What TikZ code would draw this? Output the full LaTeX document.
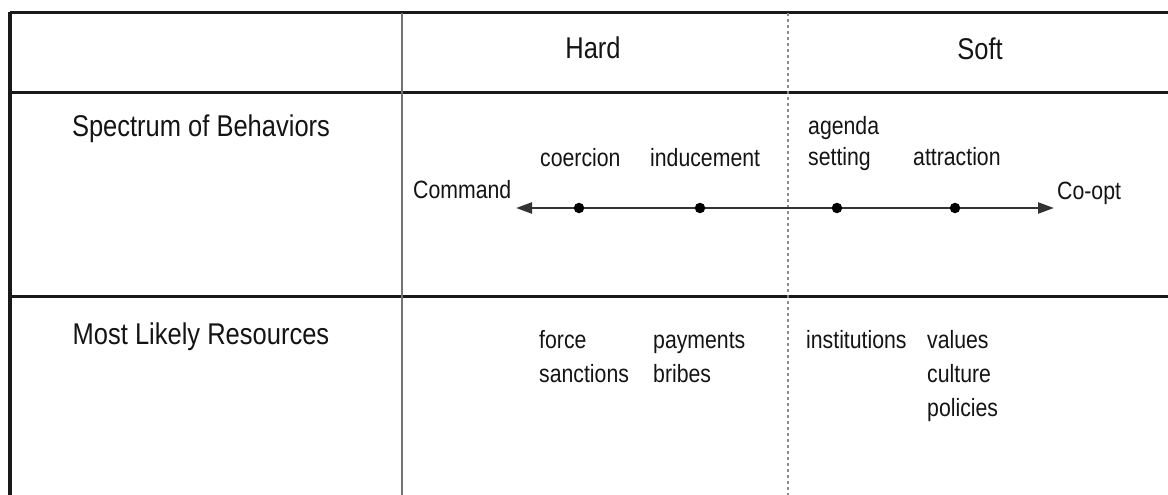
\documentclass[tikz,border=0pt]{standalone}
\usepackage{fontspec}
\setmainfont{Liberation Sans}[FakeStretch=0.85]
\usetikzlibrary{arrows.meta}
\tikzset{
  head/.style={inner sep=0pt, anchor=base, font=\fontsize{30}{34}\selectfont, text=black!92},
  lbl/.style={inner sep=0pt, anchor=base west, font=\fontsize{25}{29}\selectfont, text=black!92},
  rule/.style={line width=3pt, black!90},
  frame/.style={line width=3.4pt, black!90},
  colrule/.style={line width=1.8pt, black!55},
  split/.style={line width=2.2pt, black!45, dash pattern=on 3pt off 3pt},
  dotnode/.style={circle, fill=black, inner sep=0pt, minimum size=10.5pt},
  spectrum/.style={line width=2.4pt, black!80, {Triangle[length=16pt,width=11pt]}-{Triangle[length=16pt,width=11pt]}}
}
\begin{document}
\begin{tikzpicture}[x=1pt,y=-1pt]
\useasboundingbox (0,0) rectangle (1168,495);
% table rules
\draw[rule] (10,13) -- (1168,13);
\draw[rule] (10,93) -- (1168,93);
\draw[rule] (10,296) -- (1168,296);
\draw[frame] (10,12) -- (10,495);
\draw[colrule] (402,13) -- (402,495);
\draw[split] (788,13) -- (788,495);
% headers
\node[head] (hard) at (593,59) {Hard};
\node[head] (soft) at (980,60) {Soft};
\node[head] (spec) at (201,136) {Spectrum of Behaviors};
\node[head] (res) at (201,344) {Most Likely Resources};
% spectrum
\node[lbl] (command) at (413,198) {Command};
\node[lbl] (coercion) at (540,166) {coercion};
\node[lbl] (inducement) at (650,166) {inducement};
\node[lbl] (agenda) at (808,135) {agenda};
\node[lbl] (setting) at (808,165) {setting};
\node[lbl] (attraction) at (913,165) {attraction};
\node[lbl] (coopt) at (1057,199) {Co-opt};
\coordinate (lend) at (516,208);
\coordinate (rend) at (1054,208);
\draw[spectrum] (lend) -- (rend);
\node[dotnode] (d1) at (579,208) {};
\node[dotnode] (d2) at (700,208) {};
\node[dotnode] (d3) at (837,208) {};
\node[dotnode] (d4) at (955,208) {};
% resources
\node[lbl] (force) at (539,348) {force};
\node[lbl] (sanctions) at (539,382) {sanctions};
\node[lbl] (payments) at (653,348) {payments};
\node[lbl] (bribes) at (653,382) {bribes};
\node[lbl] (institutions) at (806,348) {institutions};
\node[lbl] (values) at (927,348) {values};
\node[lbl] (culture) at (927,382) {culture};
\node[lbl] (policies) at (927,416) {policies};
\end{tikzpicture}
\end{document}
